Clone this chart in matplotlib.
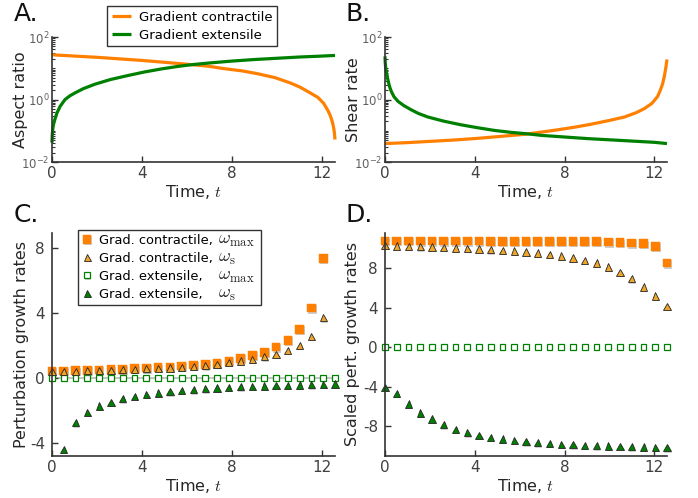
import numpy as np
import matplotlib
matplotlib.use('Agg')
import matplotlib.pyplot as plt
import matplotlib.patheffects as pe
from matplotlib.ticker import FixedLocator, LogLocator, NullFormatter
from matplotlib.transforms import IdentityTransform
from matplotlib.patches import Rectangle

plt.rcParams['font.family'] = ['DejaVu Sans']
plt.rcParams['mathtext.fontset'] = 'cm'
plt.rcParams['axes.unicode_minus'] = False

# ---------------- data ----------------
# Panel A: aspect ratio (log10 values)
tA_con = [0, 1, 2, 3, 4, 5, 6.28, 7.0, 7.61, 8.4, 9.1, 9.9, 10.58, 11.0, 11.47, 11.8,
          12.06, 12.25, 12.36, 12.45, 12.51, 12.54, 12.566]
aspect_con_log10 = [1.43, 1.39, 1.35, 1.30, 1.25, 1.19, 1.11, 1.06, 0.99, 0.92, 0.83, 0.70,
                    0.53, 0.40, 0.21, 0.07, -0.12, -0.35, -0.52, -0.72, -0.92, -1.06, -1.28]
tA_ext = [0, 0.01, 0.03, 0.06, 0.13, 0.22, 0.36, 0.58, 0.8, 1.02, 1.4, 1.91, 2.6, 3.39, 4.1,
          4.87, 5.6, 6.28, 7.0, 8.0, 9.0, 10.0, 11.0, 12.0, 12.566]
aspect_ext_log10 = [-1.38, -1.15, -0.97, -0.82, -0.63, -0.43, -0.22, 0.0, 0.12, 0.21, 0.35,
                    0.49, 0.64, 0.77, 0.88, 0.98, 1.06, 1.12, 1.17, 1.23, 1.28, 1.32, 1.36,
                    1.39, 1.41]

# Panel B: shear rate (log10 values)
tB_con = [0, 1, 2, 3, 4, 5, 6.28, 7.0, 7.7, 8.5, 9.19, 10.0, 10.67, 11.2, 11.56, 11.9,
          12.15, 12.27, 12.37, 12.45, 12.51, 12.566]
shear_con_log10 = [-1.41, -1.38, -1.34, -1.30, -1.25, -1.19, -1.11, -1.04, -0.97, -0.88,
                   -0.79, -0.67, -0.56, -0.42, -0.29, -0.12, 0.10, 0.30, 0.50, 0.75, 1.0, 1.28]
tB_ext = [0, 0.01, 0.03, 0.08, 0.13, 0.2, 0.28, 0.4, 0.58, 0.85, 1.17, 1.5, 1.91, 2.6, 3.39,
          4.1, 4.88, 5.6, 6.36, 7.0, 8.0, 9.0, 10.0, 11.0, 12.0, 12.566]
shear_ext_log10 = [1.38, 1.2, 1.0, 0.8, 0.63, 0.42, 0.26, 0.09, -0.06, -0.2, -0.33, -0.45,
                   -0.56, -0.69, -0.81, -0.9, -0.99, -1.05, -1.1, -1.15, -1.2, -1.25, -1.29,
                   -1.33, -1.37, -1.41]

# sample times k*pi/6, k = 0..24  (0 .. 4*pi)
t_samples = [k * np.pi / 6 for k in range(25)]

# Panel C: perturbation growth rates
C_con_max = [0.43, 0.44, 0.45, 0.47, 0.49, 0.51, 0.54, 0.57, 0.61, 0.64, 0.68, 0.73, 0.79,
             0.84, 0.90, 1.03, 1.2, 1.4, 1.58, 1.9, 2.32, 3.0, 4.3, 7.35]          # k=0..23
C_con_s = [0.40, 0.41, 0.42, 0.44, 0.46, 0.48, 0.50, 0.53, 0.56, 0.59, 0.62, 0.66, 0.70,
           0.75, 0.85, 0.95, 1.05, 1.15, 1.3, 1.46, 1.7, 2.0, 2.55, 3.7]            # k=0..23
C_ext_max = [0.0] * 25                                                             # k=0..24
C_ext_s = [-4.39, -2.75, -2.11, -1.72, -1.5, -1.28, -1.12, -1.02, -0.92, -0.85, -0.77,
           -0.72, -0.66, -0.62, -0.57, -0.54, -0.51, -0.49, -0.47, -0.45, -0.43, -0.41,
           -0.39, -0.37]                                                           # k=1..24

# Panel D: scaled perturbation growth rates (k=0..24)
D_con_max = [10.75, 10.75, 10.75, 10.74, 10.74, 10.74, 10.73, 10.73, 10.73, 10.72, 10.72,
             10.72, 10.72, 10.71, 10.71, 10.71, 10.70, 10.70, 10.68, 10.64, 10.57, 10.54,
             10.47, 10.2, 8.51]
D_con_s = [10.30, 10.24, 10.20, 10.17, 10.14, 10.07, 10.03, 9.97, 9.93, 9.86, 9.80, 9.73,
           9.63, 9.53, 9.39, 9.22, 9.02, 8.78, 8.51, 8.11, 7.57, 6.93, 6.08, 5.17, 4.12]
D_ext_max = [0.0] * 25
D_ext_s = [-4.05, -4.66, -5.74, -6.66, -7.26, -7.84, -8.31, -8.65, -8.92, -9.12, -9.29,
           -9.43, -9.56, -9.66, -9.73, -9.80, -9.86, -9.93, -9.97, -10.0, -10.03, -10.07,
           -10.10, -10.14, -10.17]

xticks = [0, 4, 8, 12]
yticks_C = [-4, 0, 4, 8]
yticks_D = [-8, -4, 0, 4, 8]

legend_text_C = ['Grad. contractile,', 'Grad. contractile,', 'Grad. extensile,', 'Grad. extensile,']
legend_math_C = [r'$\omega_{\max}$', r'$\omega_{\rm s}$', r'$\omega_{\max}$', r'$\omega_{\rm s}$']

# ---------------- style ----------------
ORANGE = '#ff8000'
GREEN = '#008000'
TRI_OR = '#eea62b'
EDGE = '#262626'
TICKC = '#404040'
LOGTICKC = '#606060'
LABELC = '#262626'

W, H = 698, 498
fig = plt.figure(figsize=(W / 100, H / 100), dpi=100)


def ax_at(l, t, r, b):
    return fig.add_axes([l / W, 1 - b / H, (r - l) / W, (b - t) / H])


axA = ax_at(52, 37, 335, 162)
axB = ax_at(385, 37, 667, 162)
axC = ax_at(52, 233, 335, 456)
axD = ax_at(385, 233, 667, 456)

for ax in (axA, axB, axC, axD):
    for s in ('top', 'right'):
        ax.spines[s].set_visible(False)
    for s in ('left', 'bottom'):
        ax.spines[s].set_color('#333333')
        ax.spines[s].set_linewidth(1.2)
    ax.set_xlim(0, 4 * np.pi)
    ax.set_xticks(xticks)
    ax.tick_params(axis='both', which='both', direction='in', color='#333333')
    ax.tick_params(axis='x', which='major', length=4, width=1, labelsize=11,
                   labelcolor=TICKC, pad=3)
    ax.set_xlabel('Time, $t$', fontsize=11.5, color=LABELC, labelpad=1)

LW = 2.3
for ax, tc, vc, te, ve, lab in (
        (axA, tA_con, aspect_con_log10, tA_ext, aspect_ext_log10, 'Aspect ratio'),
        (axB, tB_con, shear_con_log10, tB_ext, shear_ext_log10, 'Shear rate')):
    ax.plot(tc, 10.0 ** np.array(vc), color=ORANGE, lw=LW, solid_capstyle='butt',
            label='Gradient contractile', clip_on=False)
    ax.plot(te, 10.0 ** np.array(ve), color=GREEN, lw=LW, solid_capstyle='butt',
            label='Gradient extensile', clip_on=False)
    ax.set_yscale('log')
    ax.set_ylim(1e-2, 1e2)
    ax.yaxis.set_major_locator(FixedLocator([1e-2, 1e0, 1e2]))
    ax.yaxis.set_minor_locator(LogLocator(base=10, subs=np.arange(1, 10), numticks=20))
    ax.yaxis.set_minor_formatter(NullFormatter())
    ax.tick_params(axis='y', which='major', length=4, width=1, labelsize=8.5,
                   labelcolor=LOGTICKC, pad=2)
    ax.tick_params(axis='y', which='minor', length=2.5, width=0.8)
    ax.set_ylabel(lab, fontsize=11.5, color=LABELC)

axA.yaxis.set_label_coords(-0.085, 0.5)
axB.yaxis.set_label_coords(-0.085, 0.5)

legA = axA.legend(loc='upper left', bbox_to_anchor=(0.194, 1.245), borderaxespad=0,
                  fontsize=9.5, frameon=True, fancybox=False, framealpha=1,
                  edgecolor='#333333', handlelength=1.5, handletextpad=0.6,
                  borderpad=0.35, labelspacing=0.35)
legA.get_frame().set_linewidth(1.0)

shadow = [pe.SimplePatchShadow(offset=(0.7, -0.9), shadow_rgbFace='0.45', alpha=0.35),
          pe.Normal()]


def markers(ax, t, y, kind, label=None):
    if kind == 'con_max':
        kw = dict(marker='s', ms=6.2, mfc=ORANGE, mec=ORANGE, mew=0.3)
    elif kind == 'con_s':
        kw = dict(marker='^', ms=5.2, mfc=TRI_OR, mec=EDGE, mew=0.6)
    elif kind == 'ext_max':
        kw = dict(marker='s', ms=4.2, mfc='white', mec=GREEN, mew=0.9)
    else:
        kw = dict(marker='^', ms=5.2, mfc=GREEN, mec=EDGE, mew=0.6)
    ln, = ax.plot(t, y, ls='none', clip_on=False, label=label, **kw)
    ln.set_path_effects(shadow)
    return ln


# Panel C
axC.axhline(0, color='#c4c4c4', lw=1.4, zorder=1)
h1 = markers(axC, t_samples[:24], C_con_max, 'con_max')
h3 = markers(axC, t_samples, C_ext_max, 'ext_max')
h4 = markers(axC, t_samples[1:], C_ext_s, 'ext_s')
h2 = markers(axC, t_samples[:24], C_con_s, 'con_s')
axC.set_ylim(-4.8, 8.92)
axC.set_yticks(yticks_C)
axC.tick_params(axis='y', which='major', length=4, width=1, labelsize=11,
                labelcolor=TICKC, pad=5)
axC.set_ylabel('Perturbation growth rates', fontsize=11.5, color=LABELC)
axC.yaxis.set_label_coords(-0.08, 0.5)

LEG_FS = 9.4
legC = axC.legend([h1, h2, h3, h4], legend_text_C,
                  loc='upper left', bbox_to_anchor=(0.092, 1.013), borderaxespad=0,
                  fontsize=LEG_FS, frameon=False, handlelength=0.8, handletextpad=0.5,
                  borderpad=0.3, labelspacing=0.38, numpoints=1)
legC.set_zorder(6)

# Panel D
markers(axD, t_samples, D_con_max, 'con_max')
markers(axD, t_samples, D_ext_max, 'ext_max')
markers(axD, t_samples, D_ext_s, 'ext_s')
markers(axD, t_samples, D_con_s, 'con_s')
axD.set_ylim(-11.0, 11.55)
axD.set_yticks(yticks_D)
axD.tick_params(axis='y', which='major', length=4, width=1, labelsize=11,
                labelcolor=TICKC, pad=5)
axD.set_ylabel('Scaled pert. growth rates', fontsize=11.5, color=LABELC)
axD.yaxis.set_label_coords(-0.088, 0.5)

# panel letters
for x, y, s in ((14, 2, 'A.'), (345, 2, 'B.'), (14, 203, 'C.'), (345, 203, 'D.')):
    fig.text(x / W, 1 - y / H, s, fontsize=18, va='top', ha='left', color='#111111')

# larger omega symbols after the legend labels of panel C, plus a frame around all
fig.canvas.draw()
renderer = fig.canvas.get_renderer()
texts = legC.get_texts()
bb0 = texts[0].get_window_extent(renderer)
x_om = bb0.x1 + 5
_, _, d_lp = renderer.get_text_width_height_descent('lp', texts[0].get_fontproperties(),
                                                    ismath=False)
right = 0
for txt, om in zip(texts, legend_math_C):
    bb = txt.get_window_extent(renderer)
    t_om = fig.text(x_om, bb.y0 + d_lp, om, transform=IdentityTransform(), fontsize=13,
                    va='baseline', ha='left', color='#222222', math_fontfamily='cm',
                    zorder=10)
    right = max(right, t_om.get_window_extent(renderer).x1)
lb = legC.get_window_extent(renderer)
frame = Rectangle((lb.x0, lb.y0), right + 7 - lb.x0, lb.height,
                  transform=IdentityTransform(), facecolor='white', edgecolor='#333333',
                  linewidth=1.0, zorder=5.5, clip_on=False)
axC.add_artist(frame)

fig.savefig('out.png', dpi=100)
